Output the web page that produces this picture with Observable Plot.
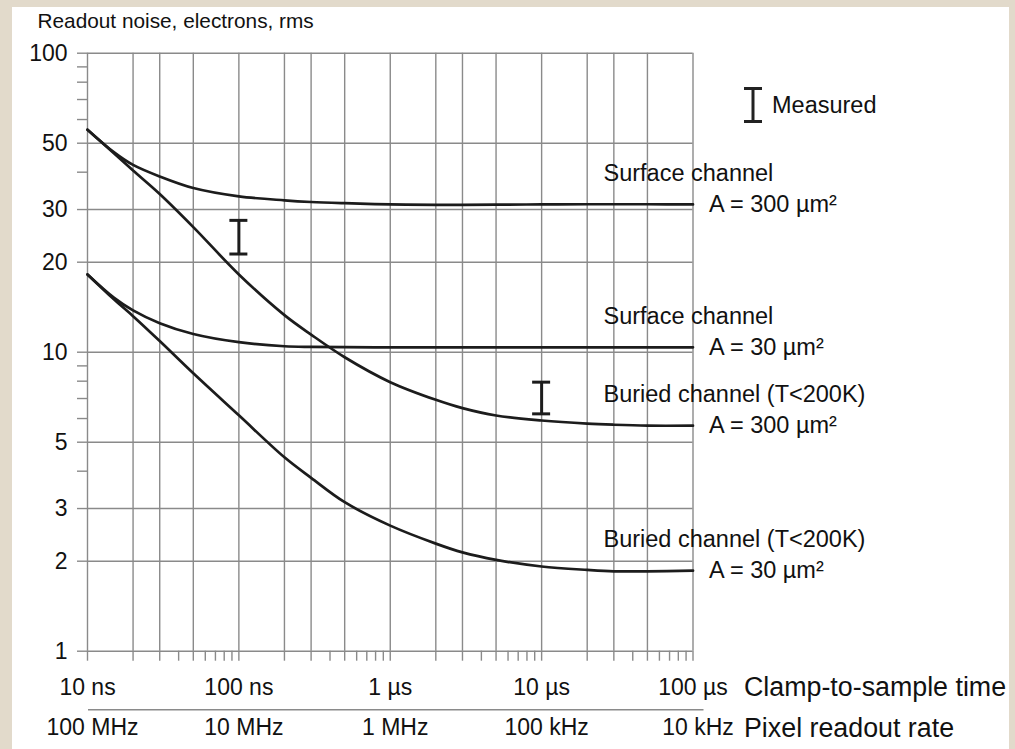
<!DOCTYPE html>
<html>
<head>
<meta charset="utf-8">
<script src="https://cdn.jsdelivr.net/npm/d3@7"></script>
<script src="https://cdn.jsdelivr.net/npm/@observablehq/plot@0.6"></script>
<style>
  html, body { margin: 0; padding: 0; }
  body { width: 1015px; height: 749px; background: #e2dacb; position: relative; overflow: hidden; font-family: "Liberation Sans", Arial, Helvetica, sans-serif; }
  #paper { position: absolute; left: 12px; top: 7px; width: 997px; height: 742px; background: #fff; }
  #chart { position: absolute; left: 0; top: 0; }
  #legend { position: absolute; left: 743px; top: 87px; display: flex; align-items: center; gap: 9px; font-size: 23.5px; color: #111; }
</style>
</head>
<body>
<div id="paper"></div>
<div id="chart"></div>
<div id="legend">
  <svg width="20" height="36" viewBox="0 0 20 36"><path d="M1,1.5H19M10,1.5V34.5M1,34.5H19" stroke="#222" stroke-width="3" fill="none"/></svg>
  <span>Measured</span>
</div>
<script>
// ---- data ----
const times = [1e-8, 1.5e-8, 2e-8, 3e-8, 5e-8, 1e-7, 2e-7, 3e-7, 5e-7, 1e-6, 2e-6, 3e-6, 5e-6, 1e-5, 2e-5, 3e-5, 5e-5, 1e-4];
const surface300 = [55.5, 46.6, 42.3, 38.7, 35.4, 33.2, 32.2, 31.8, 31.5, 31.2, 31.1, 31.1, 31.15, 31.2, 31.25, 31.25, 31.25, 31.2];
const buried300  = [55.5, 46.2, 40.5, 33.8, 26.2, 18.2, 13.3, 11.45, 9.62, 7.94, 6.93, 6.5, 6.14, 5.91, 5.77, 5.72, 5.68, 5.68];
const surface30  = [18.2, 15.2, 13.8, 12.5, 11.5, 10.8, 10.47, 10.42, 10.4, 10.38, 10.38, 10.38, 10.38, 10.38, 10.38, 10.38, 10.38, 10.38];
const buried30   = [18.2, 15.0, 13.2, 10.9, 8.5, 6.15, 4.45, 3.8, 3.15, 2.63, 2.29, 2.14, 2.02, 1.92, 1.87, 1.85, 1.85, 1.86];

const seriesNames = ["Surface channel", "Surface channel", "Buried channel (T<200K)", "Buried channel (T<200K)"];
const areaLabels  = ["A = 300 µm²", "A = 30 µm²", "A = 300 µm²", "A = 30 µm²"];
const seriesValues = [surface300, surface30, buried300, buried30];

const measuredT    = [1e-7, 1e-5];
const measuredLow  = [21.3, 6.22];
const measuredHigh = [27.6, 7.94];

const timeTicks  = [1e-8, 1e-7, 1e-6, 1e-5, 1e-4];
const timeLabels = ["10 ns", "100 ns", "1 µs", "10 µs", "100 µs"];
const rateLabels = ["100 MHz", "10 MHz", "1 MHz", "100 kHz", "10 kHz"];
const gridXMult  = [1, 2, 3, 5];
const minorMult  = [4, 6, 7, 8, 9];
const noiseTicks  = [1, 2, 3, 5, 10, 20, 30, 50, 100];
const noiseLabels = ["1", "2", "3", "5", "10", "20", "30", "50", "100"];
const noiseMinor  = [4, 6, 7, 8, 9, 40, 60, 70, 80, 90];
const yTitle = "Readout noise, electrons, rms";
const xTitle = "Clamp-to-sample time";
const rateTitle = "Pixel readout rate";

// ---- derived tables ----
const decades = [1e-8, 1e-7, 1e-6, 1e-5];
const gridX = decades.flatMap(d => gridXMult.map(m => m * d)).concat([1e-4]);
const minorX = decades.flatMap(d => minorMult.map(m => m * d));
const curves = seriesValues.flatMap((vals, i) => times.map((t, j) => ({t, v: vals[j], s: i})));
const ends = seriesValues.map((vals, i) => ({t: times[times.length - 1], v: vals[vals.length - 1], name: seriesNames[i], area: areaLabels[i]}));
const measured = measuredT.map((t, i) => ({t, lo: measuredLow[i], hi: measuredHigh[i]}));
const timeFmt = new Map(timeTicks.map((t, i) => [t, timeLabels[i]]));
const rateFmt = new Map(timeTicks.map((t, i) => [t, rateLabels[i]]));
const noiseFmt = new Map(noiseTicks.map((v, i) => [v, noiseLabels[i]]));

const gridColor = "#8a8a8a";
const ink = "#1c1c1c";

const chart = Plot.plot({
  width: 1015,
  height: 749,
  marginTop: 52.7,
  marginLeft: 87,
  marginRight: 322.5,
  marginBottom: 98.3,
  x: {type: "log", domain: [1e-8, 1e-4]},
  y: {type: "log", domain: [1, 100]},
  style: {fontFamily: "'Liberation Sans', Arial, Helvetica, sans-serif", fontSize: "23px", background: "transparent", color: "#111", overflow: "visible"},
  marks: [
    Plot.gridX(gridX, {stroke: gridColor, strokeOpacity: 1, strokeWidth: 1.4}),
    Plot.gridY(noiseTicks, {stroke: gridColor, strokeOpacity: 1, strokeWidth: 1.4}),
    Plot.axisY(noiseTicks, {label: null, tickSize: 10, tickPadding: 10, stroke: gridColor, strokeWidth: 1.4, tickFormat: d => noiseFmt.get(d), fontSize: 23}),
    Plot.axisY(noiseMinor, {label: null, tickSize: 10, stroke: gridColor, strokeWidth: 1.4, tickFormat: () => ""}),
    Plot.axisX(gridX, {label: null, tickSize: 10, stroke: gridColor, strokeWidth: 1.4, tickFormat: () => ""}),
    Plot.axisX(minorX, {label: null, tickSize: 10, stroke: gridColor, strokeWidth: 1.4, tickFormat: () => ""}),
    Plot.axisX(timeTicks, {label: null, tickSize: 0, tickPadding: 27.6, tickFormat: d => timeFmt.get(d), fontSize: 23}),
    Plot.axisX(timeTicks, {label: null, tickSize: 0, tickPadding: 67.6, dx: 5, tickFormat: d => rateFmt.get(d), fontSize: 23}),
    Plot.ruleY([1], {dy: 58.6, insetLeft: 1, insetRight: -11, stroke: gridColor, strokeWidth: 1.6}),
    Plot.line(curves, {x: "t", y: "v", z: "s", stroke: ink, strokeWidth: 2.7, curve: "catmull-rom"}),
    Plot.ruleX(measured, {x: "t", y1: "lo", y2: "hi", stroke: ink, strokeWidth: 3}),
    Plot.ruleY(measured, {x1: "t", x2: "t", y: "lo", insetLeft: -9, insetRight: -9, stroke: ink, strokeWidth: 3}),
    Plot.ruleY(measured, {x1: "t", x2: "t", y: "hi", insetLeft: -9, insetRight: -9, stroke: ink, strokeWidth: 3}),
    Plot.text(ends, {x: "t", y: "v", text: "name", dx: -89.5, dy: -31, textAnchor: "start", lineAnchor: "middle", fontSize: 23.5, fill: "#111"}),
    Plot.text(ends, {x: "t", y: "v", text: "area", dx: 16, textAnchor: "start", lineAnchor: "middle", fontSize: 23.5, fill: "#111"}),
    Plot.text([yTitle], {frameAnchor: "top-left", dx: -50, dy: -32, textAnchor: "start", lineAnchor: "middle", fontSize: 20.8, fill: "#111"}),
    Plot.text([xTitle], {frameAnchor: "bottom-right", dx: 51, dy: 36, textAnchor: "start", lineAnchor: "middle", fontSize: 26.8, fill: "#111"}),
    Plot.text([rateTitle], {frameAnchor: "bottom-right", dx: 51, dy: 77, textAnchor: "start", lineAnchor: "middle", fontSize: 26.8, fill: "#111"})
  ]
});
document.getElementById("chart").append(chart);
</script>
</body>
</html>
